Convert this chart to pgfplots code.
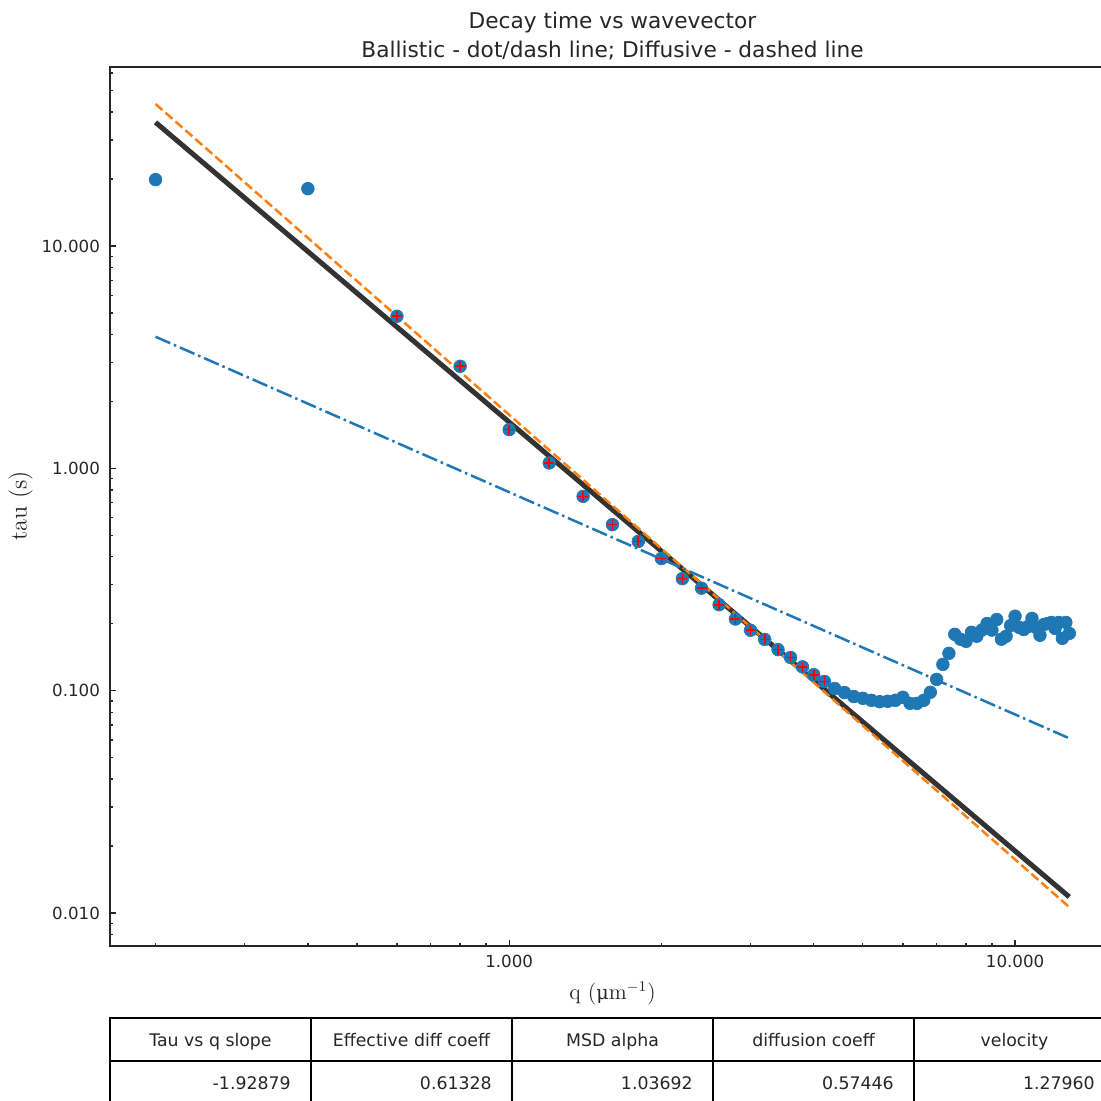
\documentclass[border=0pt]{standalone}
\usepackage{fontspec}
\usepackage{pgfplots}
\usepackage{pgfplotstable}
\pgfplotsset{compat=1.18}
\newfontfamily\djv{DejaVu Sans}
\newfontfamily\djvserif{DejaVu Serif}
\definecolor{tabblue}{HTML}{1F77B4}
\definecolor{taborange}{HTML}{FF7F0E}

\pgfplotstableread{
q tau
0.2 19.89
0.4 18.11
0.6 4.83
0.8 2.877
1.0 1.493
1.2 1.057
1.4 0.748
1.6 0.558
1.8 0.469
2.0 0.393
2.2 0.319
2.4 0.289
2.6 0.2435
2.8 0.210
3.0 0.187
3.2 0.170
3.4 0.153
3.6 0.141
3.8 0.128
4.0 0.118
4.2 0.110
4.4 0.1022
4.6 0.0981
4.8 0.0941
5.0 0.0924
5.2 0.0905
5.4 0.0892
5.6 0.0896
5.8 0.0905
6.0 0.0934
6.2 0.0877
6.4 0.0877
6.6 0.0905
6.8 0.0983
7.0 0.1124
7.2 0.1313
7.4 0.1472
7.6 0.1792
7.8 0.1704
8.0 0.1667
8.2 0.1831
8.4 0.1757
8.6 0.1873
8.8 0.2005
9.0 0.1873
9.2 0.2090
9.4 0.1704
9.6 0.1757
9.8 0.1964
10.0 0.2162
10.2 0.1924
10.4 0.1885
10.6 0.1943
10.8 0.2114
11.0 0.1924
11.2 0.1775
11.4 0.1985
11.6 0.2005
11.8 0.2027
12.0 0.1905
12.2 0.2027
12.4 0.1720
12.6 0.2027
12.8 0.1810
}\datatab

\pgfplotstableread{
q tau
0.6 4.83
0.8 2.877
1.0 1.493
1.2 1.057
1.4 0.748
1.6 0.558
1.8 0.469
2.0 0.393
2.2 0.319
2.4 0.289
2.6 0.2435
2.8 0.210
3.0 0.187
3.2 0.170
3.4 0.153
3.6 0.141
3.8 0.128
4.0 0.118
4.2 0.110
}\fittab

\begin{document}
\begin{tikzpicture}
\begin{axis}[
  at={(66pt,-567.6pt)}, anchor=south west,
  scale only axis, width=603pt, height=527.4pt,
  xmode=log, ymode=log,
  xmin=0.16255, xmax=15.76, ymin=0.007105, ymax=63.84,
  xtick={1,10}, xticklabels={1.000,10.000},
  ytick={0.01,0.1,1,10}, yticklabels={0.010,0.100,1.000,10.000},
  minor xtick={0.2,0.3,0.4,0.5,0.6,0.7,0.8,0.9,2,3,4,5,6,7,8,9},
  minor ytick={0.008,0.009,0.02,0.03,0.04,0.05,0.06,0.07,0.08,0.09,0.2,0.3,0.4,0.5,0.6,0.7,0.8,0.9,2,3,4,5,6,7,8,9,20,30,40,50,60},
  tick align=inside, xtick pos=bottom, ytick pos=left,
  major tick length=3.5pt, minor tick length=2pt,
  every tick/.style={black!85, line width=0.8pt},
  axis line style={black!85, line width=0.8pt},
  tick label style={font=\djv\fontsize{10}{12}\selectfont, text=black!85},
  xticklabel style={yshift=-2pt},
  yticklabel style={xshift=-2.5pt},
]
\addplot[tabblue, only marks, mark=*, mark size=3.8pt, mark options={draw=none, fill=tabblue}] table[x=q,y=tau]{\datatab};
\addplot[black!80, line width=3pt] coordinates {(0.2,35.98) (12.8,0.01181)};
\addplot[taborange, line width=1.5pt, dash pattern=on 5.55pt off 2.4pt] coordinates {(0.2,43.52) (12.8,0.010625)};
\addplot[tabblue, line width=1.5pt, dash pattern=on 9.6pt off 2.4pt on 1.5pt off 2.4pt] coordinates {(0.2,3.9075) (12.8,0.061055)};
\addplot[red, only marks, mark=+, mark size=3pt, mark options={red, line width=1pt}] table[x=q,y=tau]{\fittab};
\end{axis}

% title
\node[anchor=base, font=\djv\fontsize{13}{15}\selectfont, text=black!85] at (367.5pt,-17.4pt) {Decay time vs wavevector};
\node[anchor=base, font=\djv\fontsize{13}{15}\selectfont, text=black!85] at (367.5pt,-34.8pt) {Ballistic - dot/dash line; Diffusive - dashed line};

% axis labels
\node[anchor=base, font=\fontsize{13.2}{15}\selectfont, text=black!85] at (367.5pt,-599.4pt) {q ({\djvserif\fontsize{11.5}{13}\selectfont μ}m$^{-1}$)};
\node[rotate=90, anchor=center, font=\fontsize{14.5}{16}\selectfont, text=black!85] at (12.3pt,-303.6pt) {tau (s)};

% table
\draw[line width=0.8pt] (66pt,-610.8pt) rectangle (669pt,-662.4pt);
\draw[line width=0.8pt] (66pt,-636.6pt) -- (669pt,-636.6pt);
\foreach \xx in {186.6,307.2,427.8,548.4} {
  \draw[line width=0.8pt] (\xx pt,-610.8pt) -- (\xx pt,-662.4pt);
}
\begin{scope}[every node/.style={font=\djv\fontsize{10.4}{12}\selectfont, text=black!85}]
\node[anchor=base] at (126.3pt,-627.6pt) {Tau vs q slope};
\node[anchor=base] at (246.9pt,-627.6pt) {Effective diff coeff};
\node[anchor=base] at (367.5pt,-627.6pt) {MSD alpha};
\node[anchor=base] at (488.1pt,-627.6pt) {diffusion coeff};
\node[anchor=base] at (608.7pt,-627.6pt) {velocity};
\node[anchor=base east, inner sep=0pt] at (174.6pt,-653.4pt) {-1.92879};
\node[anchor=base east, inner sep=0pt] at (295.2pt,-653.4pt) {0.61328};
\node[anchor=base east, inner sep=0pt] at (415.8pt,-653.4pt) {1.03692};
\node[anchor=base east, inner sep=0pt] at (536.4pt,-653.4pt) {0.57446};
\node[anchor=base east, inner sep=0pt] at (657pt,-653.4pt) {1.27960};
\end{scope}

\pgfresetboundingbox
\path[use as bounding box] (0pt,0pt) rectangle (660.6pt,-660.6pt);
\end{tikzpicture}
\end{document}
